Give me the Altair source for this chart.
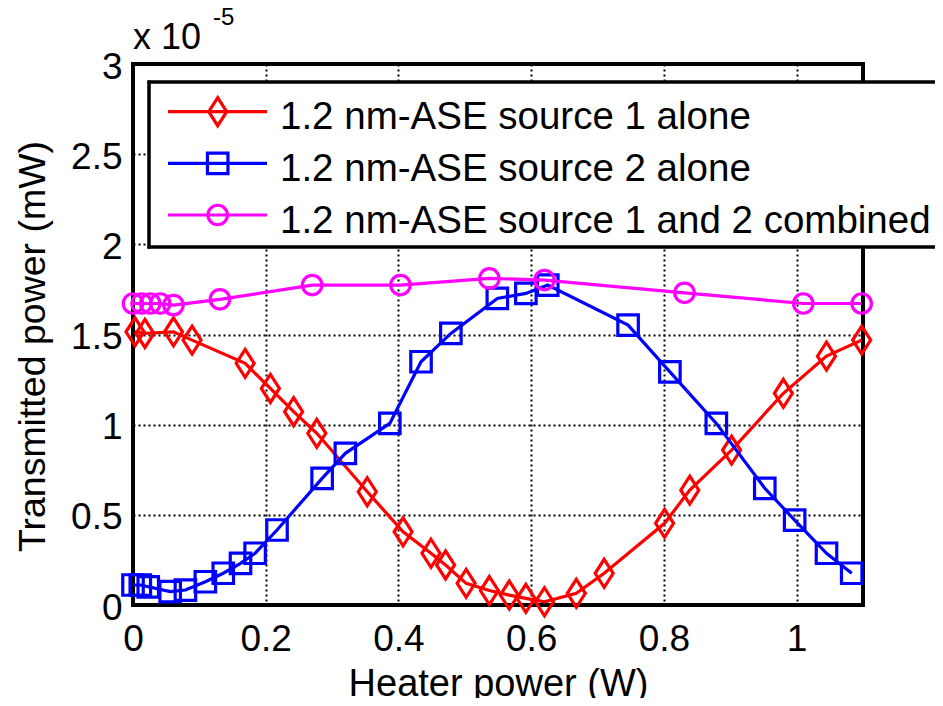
import altair as alt
import pandas as pd

FONT = "Liberation Sans"

# ---- data (y values in units of 1e-5 mW, as on the axis) ----
src1_x = [0.003, 0.018, 0.061, 0.089, 0.169, 0.207, 0.242, 0.277, 0.353, 0.407, 0.449,
          0.471, 0.502, 0.537, 0.567, 0.592, 0.620, 0.668, 0.710, 0.801, 0.839, 0.902,
          0.980, 1.045, 1.098]
src1_y = [1.515, 1.506, 1.515, 1.469, 1.340, 1.201, 1.072, 0.952, 0.628, 0.406, 0.287,
          0.222, 0.120, 0.080, 0.055, 0.037, 0.018, 0.065, 0.176, 0.453, 0.637, 0.859,
          1.174, 1.380, 1.469]

src2_x = [0.000, 0.011, 0.023, 0.056, 0.079, 0.109, 0.136, 0.162, 0.184, 0.217, 0.285,
          0.320, 0.387, 0.434, 0.479, 0.549, 0.592, 0.625, 0.746, 0.809, 0.879, 0.952,
          0.997, 1.045, 1.083]
src2_y = [0.111, 0.111, 0.101, 0.074, 0.083, 0.129, 0.176, 0.231, 0.287, 0.416, 0.702,
          0.841, 1.007, 1.349, 1.506, 1.700, 1.728, 1.774, 1.552, 1.293, 1.007, 0.647,
          0.471, 0.287, 0.176]

comb_x = [0.000, 0.013, 0.026, 0.041, 0.061, 0.131, 0.270, 0.403, 0.537, 0.620, 0.831,
          1.010, 1.098]
comb_y = [1.672, 1.672, 1.672, 1.672, 1.663, 1.695, 1.774, 1.774, 1.811, 1.802, 1.731,
          1.672, 1.672]

series_labels = ["1.2 nm-ASE source 1 alone",
                 "1.2 nm-ASE source 2 alone",
                 "1.2 nm-ASE source 1 and 2 combined"]
series_colors = ["#ff0000", "#0000ff", "#ff00ff"]
# tall MATLAB-like diamond, square, circle
series_shapes = ["M0,-1.4L0.9,0L0,1.4L-0.9,0Z", "square", "circle"]
series_sizes = [400, 420, 380]

x_ticks = [0, 0.2, 0.4, 0.6, 0.8, 1.0]
y_ticks = [0, 0.5, 1, 1.5, 2, 2.5, 3]

title_text = "Source 2 in Position 2"
x_title = "Heater power (W)"
y_title = "Transmitted power (mW)"

W, H = 730, 541

xscale = alt.Scale(domain=[0, 1.1], nice=False, zero=False)
yscale = alt.Scale(domain=[0, 3], nice=False)

grid_kw = dict(grid=True, gridColor="black", gridDash=[2, 3], gridWidth=2, gridOpacity=1)
xaxis = alt.Axis(values=x_ticks, format="~g", title=x_title, ticks=False, domain=False,
                 labelFontSize=37, labelFont=FONT, labelColor="black", labelPadding=16,
                 labelFlush=False,
                 titleFontSize=38, titleFont=FONT, titleFontWeight="normal", titleColor="black",
                 titleBaseline="alphabetic", titleY=90, **grid_kw)
yaxis = alt.Axis(values=y_ticks, format="~g", title=y_title, ticks=False, domain=False,
                 labelFontSize=37, labelFont=FONT, labelColor="black", labelPadding=11,
                 labelOffset=3, labelFlush=False,
                 titleFontSize=37.5, titleFont=FONT, titleFontWeight="normal", titleColor="black",
                 titleBaseline="alphabetic", titleX=-89, titleY=282, titleAngle=270, **grid_kw)

layers = []
for xs, ys, col, shp, sz in zip([src1_x, src2_x, comb_x], [src1_y, src2_y, comb_y],
                                series_colors, series_shapes, series_sizes):
    df = pd.DataFrame({"x": xs, "y": ys})
    base = alt.Chart(df).encode(x=alt.X("x:Q", scale=xscale, axis=xaxis),
                                y=alt.Y("y:Q", scale=yscale, axis=yaxis))
    layers.append(base.mark_line(color=col, strokeWidth=3.2))
    layers.append(base.mark_point(shape=shp, size=sz, color=col, filled=False,
                                  strokeWidth=3.2, opacity=1))

# ---- legend box (right side runs off the page, as in the reference) ----
one = pd.DataFrame({"a": [0]})
layers.append(alt.Chart(one).mark_rect(fill="white", strokeWidth=0).encode(
    x=alt.value(16), x2=alt.value(810), y=alt.value(18), y2=alt.value(183)))
for yy in [18, 183]:
    layers.append(alt.Chart(one).mark_rule(color="black", strokeWidth=3.5).encode(
        x=alt.value(14.5), x2=alt.value(810), y=alt.value(yy)))
layers.append(alt.Chart(one).mark_rule(color="black", strokeWidth=3.5).encode(
    x=alt.value(16), y=alt.value(16.5), y2=alt.value(184.5)))

row_line_y = [47.7, 99.3, 151]
row_text_y = [64.7, 116.7, 169]
for lab, col, shp, sz, ly, ty in zip(series_labels, series_colors, series_shapes,
                                     series_sizes, row_line_y, row_text_y):
    d = pd.DataFrame({"label": [lab]})
    layers.append(alt.Chart(d).mark_rule(color=col, strokeWidth=3.2).encode(
        x=alt.value(35), x2=alt.value(134), y=alt.value(ly)))
    layers.append(alt.Chart(d).mark_point(shape=shp, size=sz, color=col, filled=False,
                                          strokeWidth=3.2, opacity=1).encode(
        x=alt.value(84.7), y=alt.value(ly)))
    layers.append(alt.Chart(d).mark_text(align="left", baseline="alphabetic", fontSize=38.5,
                                         font=FONT, color="black").encode(
        x=alt.value(147), y=alt.value(ty), text="label:N"))

# ---- title (cut off at the top, as in the reference) and exponent ----
layers.append(alt.Chart(pd.DataFrame({"t": [title_text]})).mark_text(
    align="center", baseline="alphabetic", fontSize=47, fontWeight="bold", font=FONT,
    color="black").encode(x=alt.value(376), y=alt.value(-58), text="t:N"))
layers.append(alt.Chart(pd.DataFrame({"t": ["x 10"]})).mark_text(
    align="left", baseline="alphabetic", fontSize=36, font=FONT, color="black").encode(
    x=alt.value(0), y=alt.value(-15), text="t:N"))
layers.append(alt.Chart(pd.DataFrame({"t": ["-5"]})).mark_text(
    align="left", baseline="alphabetic", fontSize=24, font=FONT, color="black").encode(
    x=alt.value(80), y=alt.value(-39), text="t:N"))

chart = alt.layer(*layers).properties(
    width=W, height=H, autosize="none",
    padding={"left": 125, "top": 56, "right": 72, "bottom": 93},
).configure(font=FONT).configure_view(stroke="black", strokeWidth=4)

chart.save("out.html", embed_options={"renderer": "svg", "actions": False})
